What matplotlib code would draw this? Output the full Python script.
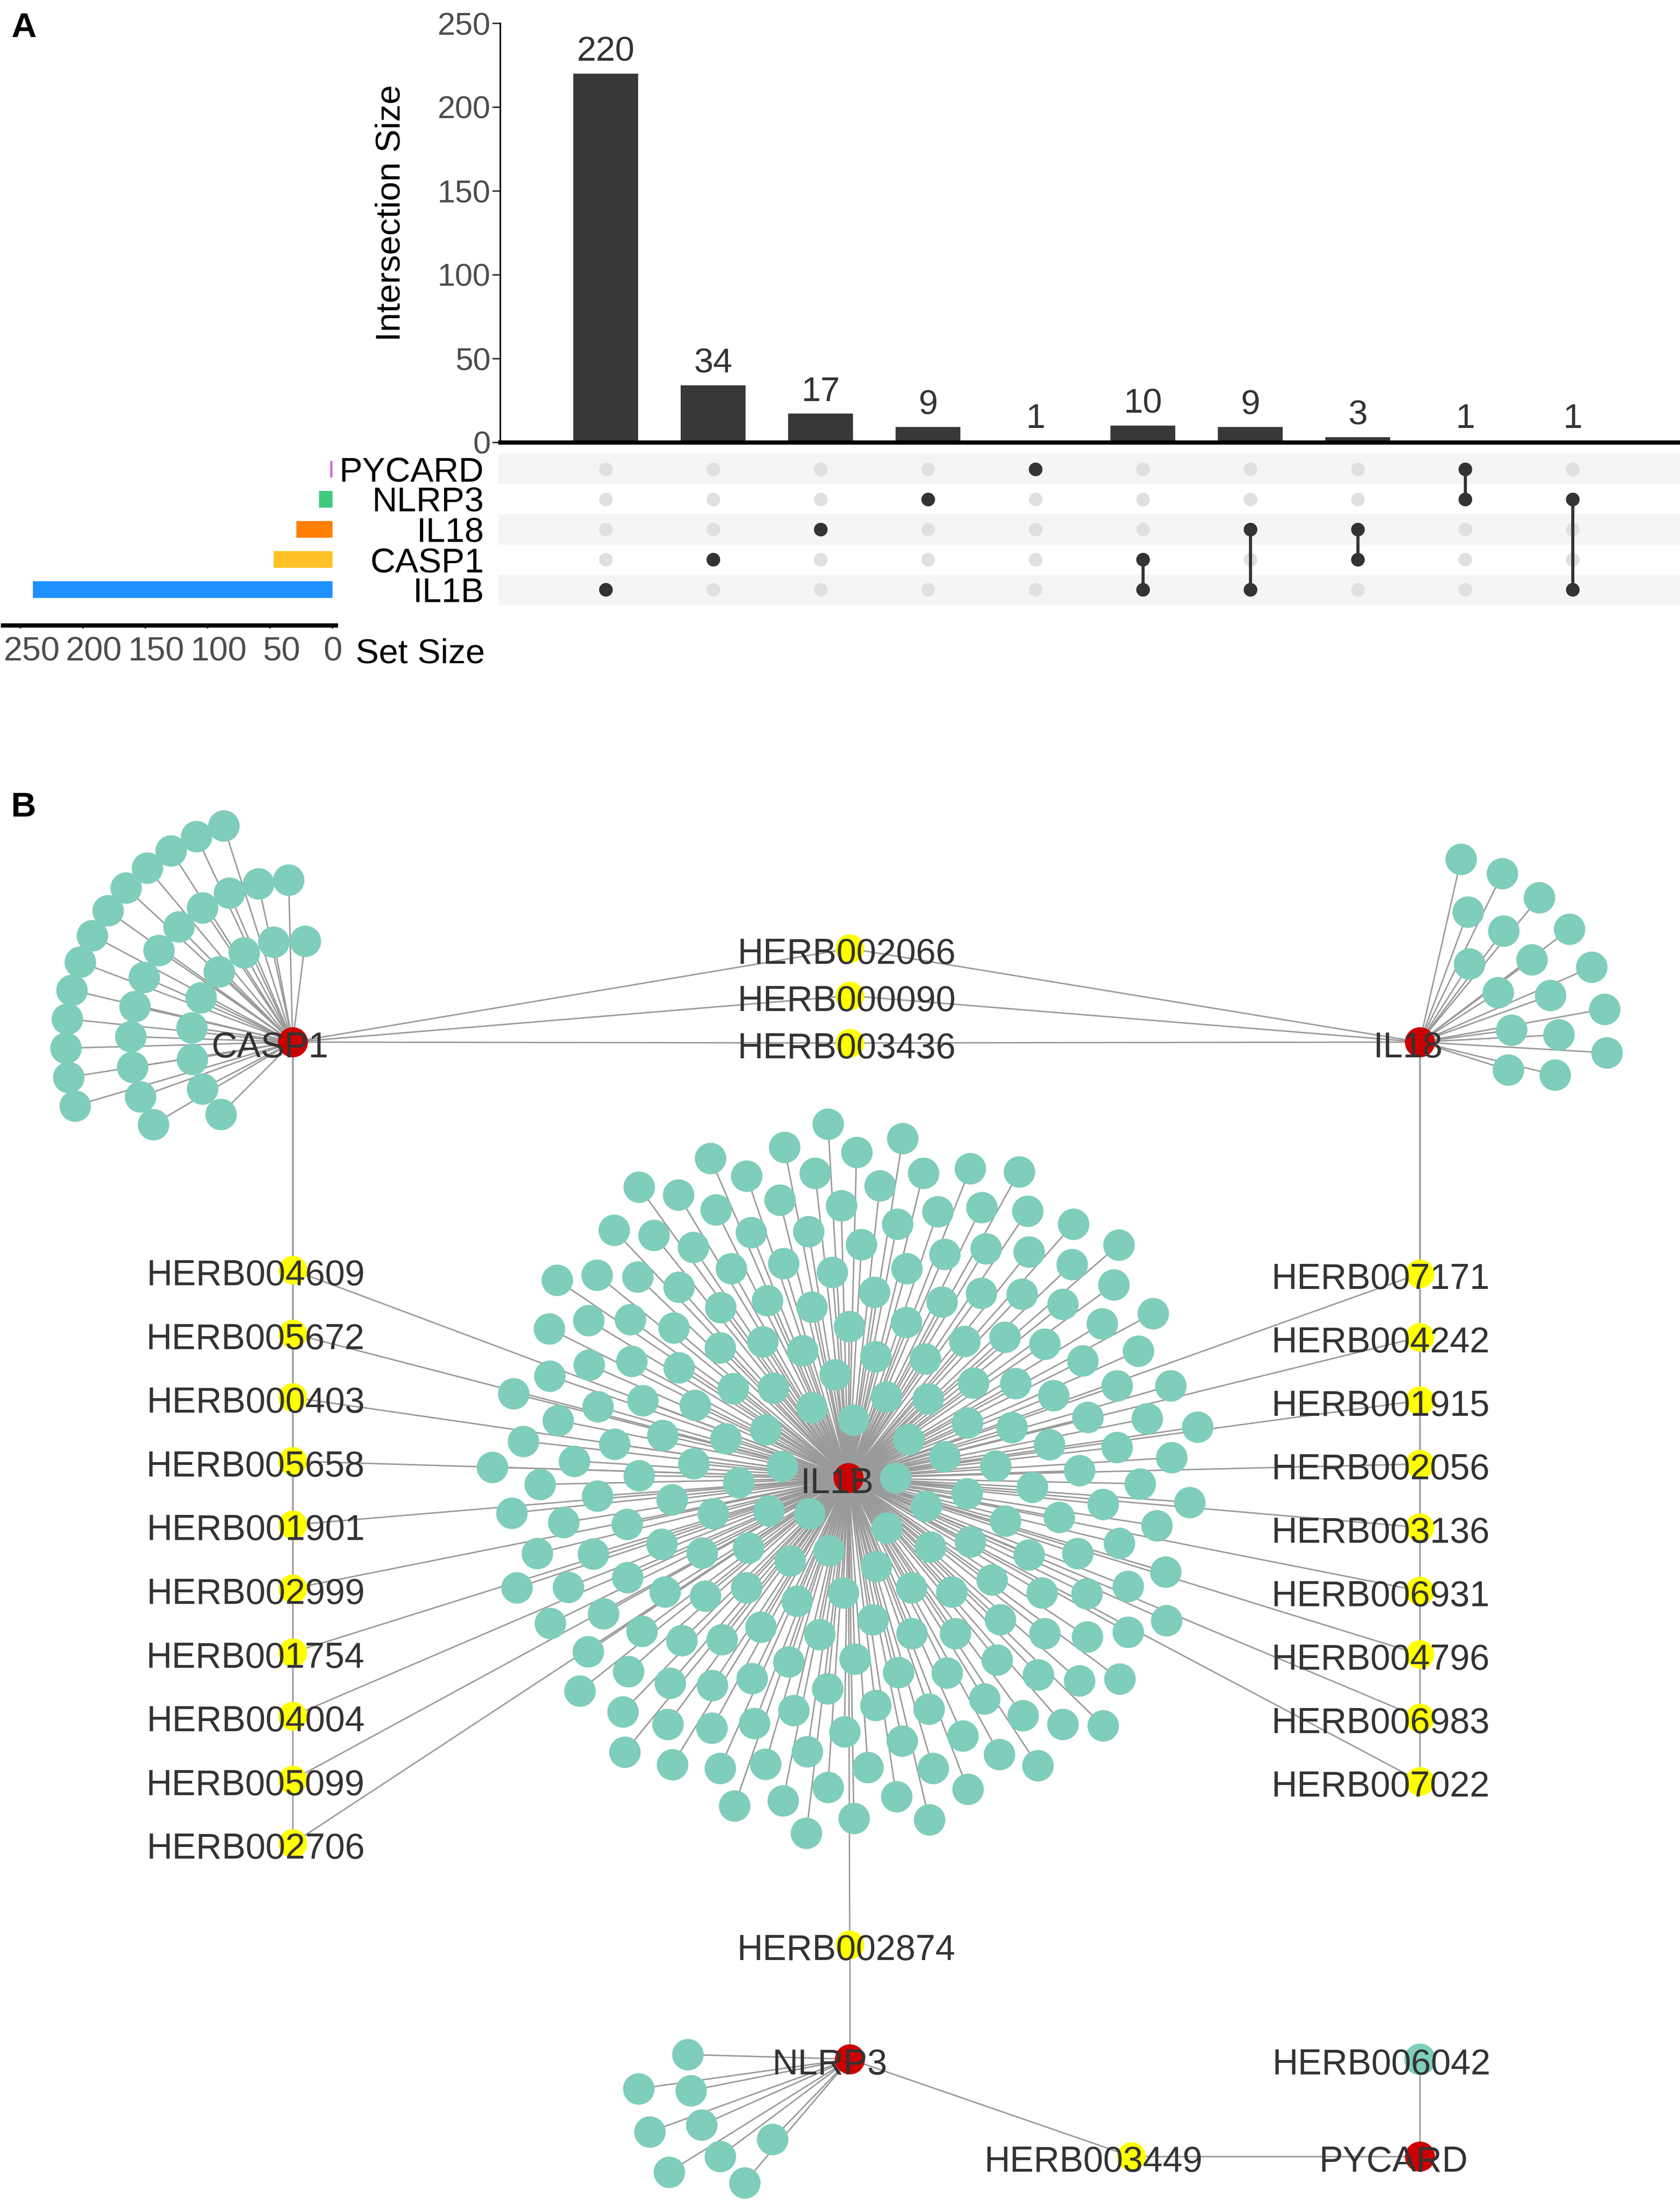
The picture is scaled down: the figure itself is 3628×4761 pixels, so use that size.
import numpy as np
import matplotlib
matplotlib.use('Agg')
import matplotlib.pyplot as plt
from matplotlib.collections import LineCollection
from matplotlib.transforms import ScaledTranslation

plt.rcParams['font.family'] = ['Liberation Sans', 'DejaVu Sans']

# ======================= DATA =======================
# Panel A (UpSet)
set_names = ['PYCARD', 'NLRP3', 'IL18', 'CASP1', 'IL1B']
set_colors = ['#d36fd3', '#40c97c', '#ff7f00', '#ffc125', '#1e90ff']
intersection_members = [
    ['IL1B'], ['CASP1'], ['IL18'], ['NLRP3'], ['PYCARD'],
    ['CASP1', 'IL1B'], ['IL18', 'IL1B'], ['IL18', 'CASP1'],
    ['PYCARD', 'NLRP3'], ['NLRP3', 'IL1B'],
]
intersection_sizes = [220, 34, 17, 9, 1, 10, 9, 3, 1, 1]
inter_ticks = [0, 50, 100, 150, 200, 250]
set_size_ticks = [0, 50, 100, 150, 200, 250]

# Panel B (network)
hubs = ['CASP1', 'IL18', 'IL1B', 'NLRP3', 'PYCARD']
herbs_casp1_il18 = ['HERB002066', 'HERB000090', 'HERB003436']
herbs_casp1_il1b = ['HERB004609', 'HERB005672', 'HERB000403', 'HERB005658', 'HERB001901',
                    'HERB002999', 'HERB001754', 'HERB004004', 'HERB005099', 'HERB002706']
herbs_il18_il1b = ['HERB007171', 'HERB004242', 'HERB001915', 'HERB002056', 'HERB003136',
                   'HERB006931', 'HERB004796', 'HERB006983', 'HERB007022']
herbs_nlrp3_il1b = ['HERB002874']
herbs_nlrp3_pycard = ['HERB003449']
herbs_pycard_only = ['HERB006042']
unlabeled_leaf_counts = {'IL1B': 220, 'CASP1': 34, 'IL18': 17, 'NLRP3': 9}

set_sizes = [sum(s for m, s in zip(intersection_members, intersection_sizes) if n in m)
             for n in set_names]

# ======================= FIGURE =======================
W, H = 3628, 4761
DPI = 300
fig = plt.figure(figsize=(W / DPI, H / DPI), dpi=DPI)
PT = 72 / DPI  # points per pixel


def px_axes(left, top, right, bottom, **kw):
    return fig.add_axes([left / W, 1 - bottom / H, (right - left) / W, (bottom - top) / H], **kw)


TXT = '#333333'
TICKLAB = '#4d4d4d'

# ---------- intersection bars ----------
col_x0, col_dx = 1308, 232
n_cols = len(intersection_sizes)
ax_l, ax_r = 1080, 3628
xlim = ((ax_l - col_x0) / col_dx, (ax_r - col_x0) / col_dx)

axb = px_axes(ax_l, 50, ax_r, 955)
cols = np.arange(n_cols)
axb.bar(cols, intersection_sizes, width=0.6, color='#383838', zorder=2)
for c, v in zip(cols, intersection_sizes):
    axb.annotate(str(v), (c, v), xytext=(0, 3), textcoords='offset points',
                 ha='center', va='bottom', fontsize=18, color=TXT)
axb.set_xlim(*xlim)
axb.set_ylim(0, 250)
axb.set_yticks(inter_ticks)
axb.set_xticks([])
for s in ['top', 'right']:
    axb.spines[s].set_visible(False)
axb.spines['left'].set_linewidth(0.8)
axb.spines['bottom'].set_linewidth(2.2)
axb.tick_params(axis='y', labelsize=16.5, labelcolor=TICKLAB, length=4, width=0.8, pad=1, color='#333333')
axb.set_ylabel('Intersection Size', fontsize=18, color='black')
axb.yaxis.set_label_coords((878 - ax_l) / (ax_r - ax_l), (955 - 460) / (955 - 50))
axb.patch.set_alpha(0)

# ---------- matrix ----------
m_top, m_bot = 980, 1306
axm = px_axes(1076, m_top, ax_r, m_bot)
axm.set_xlim((1076 - col_x0) / col_dx, xlim[1])
axm.set_ylim(len(set_names) - 0.5, -0.5)
for r in range(len(set_names)):
    if r % 2 == 0:
        axm.axhspan(r - 0.5, r + 0.5, color='#f5f5f5', zorder=0, lw=0)
gx, gy = np.meshgrid(cols, np.arange(len(set_names)))
axm.scatter(gx.ravel(), gy.ravel(), s=50, color='#e0e0e0', zorder=2, linewidths=0)
for c, members in enumerate(intersection_members):
    rows = [set_names.index(m) for m in members]
    if len(rows) > 1:
        axm.plot([c, c], [min(rows), max(rows)], color='#333333', lw=1.6, zorder=3)
    axm.scatter([c] * len(rows), rows, s=50, color='#333333', zorder=4, linewidths=0)
axm.set_yticks(range(len(set_names)))
axm.set_yticklabels(set_names)
axm.set_xticks([])
axm.tick_params(axis='y', length=0, labelsize=18, labelcolor='black', pad=(1076 - 1045) * PT)
for s in axm.spines.values():
    s.set_visible(False)

# ---------- set size bars ----------
axs = px_axes(6, m_top, 725, m_bot)
axs.barh(np.arange(len(set_names)), set_sizes, height=0.55, color=set_colors, zorder=2)
axs.set_xlim(264, -2.5)
axs.set_ylim(len(set_names) - 0.5, -0.5)
axs.set_yticks([])
axs.set_xticks(set_size_ticks)
for s in ['top', 'right', 'left']:
    axs.spines[s].set_visible(False)
axs.spines['bottom'].set_position(('outward', (1350 - m_bot) * PT))
axs.spines['bottom'].set_linewidth(2.2)
axs.tick_params(axis='x', labelsize=17.5, labelcolor=TICKLAB, length=1.6, width=0.9,
                color='#333333', pad=4)
shift = ScaledTranslation(24 / DPI, 0, fig.dpi_scale_trans)
for lab, v in zip(axs.get_xticklabels(), set_size_ticks):
    if v > 0:
        lab.set_transform(lab.get_transform() + shift)
axs.patch.set_alpha(0)
fig.text(768 / W, 1 - 1431 / H, 'Set Size', fontsize=18, color='black', ha='left', va='baseline')

# panel letters
fig.text(24 / W, 1 - 80 / H, 'A', fontsize=18, fontweight='bold', ha='left', va='baseline')
fig.text(24 / W, 1 - 1763 / H, 'B', fontsize=18, fontweight='bold', ha='left', va='baseline')

# ======================= NETWORK (panel B) =======================
axn = fig.add_axes([0, 0, 1, 1], zorder=-1)
axn.set_xlim(0, W)
axn.set_ylim(H, 0)
axn.axis('off')

# ---- layout (pixel space) ----
col_left, col_mid, col_right = 632, 1835, 3066
hub_xy = {'CASP1': (col_left, 2250), 'IL18': (col_right, 2250), 'IL1B': (1832, 3191),
          'NLRP3': (col_mid, 4446), 'PYCARD': (col_right, 4656)}
hub_label_dx = {'CASP1': -49, 'IL18': -25, 'IL1B': -24, 'NLRP3': -43, 'PYCARD': -57}

herb_nodes = []  # (name, x, y, color, label_dx, [hubs])
for i, h in enumerate(herbs_casp1_il18):
    herb_nodes.append((h, col_mid, 2048 + 102 * i, 'yellow', -7, ['CASP1', 'IL18']))
for i, h in enumerate(herbs_casp1_il1b):
    herb_nodes.append((h, col_left, 2742 + 137.6 * i, 'yellow', -80, ['CASP1', 'IL1B']))
for i, h in enumerate(herbs_il18_il1b):
    herb_nodes.append((h, col_right, 2750 + 137 * i, 'yellow', -85, ['IL18', 'IL1B']))
for h in herbs_nlrp3_il1b:
    herb_nodes.append((h, col_mid, 4199, 'yellow', -7, ['IL1B', 'NLRP3']))
for h in herbs_nlrp3_pycard:
    herb_nodes.append((h, 2443, 4656, 'yellow', -82, ['NLRP3', 'PYCARD']))
for h in herbs_pycard_only:
    herb_nodes.append((h, col_right, 4446, 'green', -83, ['PYCARD']))


def fan_layout(center, n, rings):
    """Place n leaves on concentric arcs; rings = [(radius, a0, a1)], angles in degrees."""
    cx, cy = center
    w = np.array([r * abs(a1 - a0) for r, a0, a1 in rings], float)
    counts = np.floor(n * w / w.sum()).astype(int)
    rem = n * w / w.sum() - counts
    for k in np.argsort(-rem)[: n - counts.sum()]:
        counts[k] += 1
    xs, ys = [], []
    for (r, a0, a1), c in zip(rings, counts):
        ang = np.radians(a0 + (a1 - a0) * (np.arange(c) + 0.5) / c)
        xs.extend(cx + r * np.cos(ang))
        ys.extend(cy - r * np.sin(ang))
    return np.array(xs), np.array(ys)


def sunflower_layout(center, n, r_min, r_max):
    cx, cy = center
    i = np.arange(n)
    r = np.sqrt(r_min ** 2 + (r_max ** 2 - r_min ** 2) * (i + 0.5) / n)
    th = i * np.radians(137.508)
    return cx + r * np.cos(th), cy + r * np.sin(th)


leaf_xy = {
    'IL1B': sunflower_layout(hub_xy['IL1B'], unlabeled_leaf_counts['IL1B'], 95, 775),
    'CASP1': fan_layout(hub_xy['CASP1'], unlabeled_leaf_counts['CASP1'],
                        [(220, 74, 234), (350, 86, 216), (490, 104, 200)]),
    'IL18': fan_layout(hub_xy['IL18'], unlabeled_leaf_counts['IL18'],
                       [(200, 70, -30), (300, 78, -22), (405, 84, -10)]),
    'NLRP3': fan_layout(hub_xy['NLRP3'], unlabeled_leaf_counts['NLRP3'],
                        [(240, 214, 238), (350, 172, 236), (460, 182, 218)]),
}

# ---- edges ----
segs = []
for hub, (lx, ly) in leaf_xy.items():
    hx, hy = hub_xy[hub]
    segs += [[(hx, hy), (x, y)] for x, y in zip(lx, ly)]
for name, x, y, c, dx, hl in herb_nodes:
    for hb in hl:
        segs.append([hub_xy[hb], (x, y)])
axn.add_collection(LineCollection(segs, colors='#9a9a9a', linewidths=0.75, zorder=1))

GREEN, RED, YELLOW = '#7fcdbb', '#cc0000', '#ffff00'
s_green = (68 * PT) ** 2
s_red = (65 * PT) ** 2
s_yel = (62 * PT) ** 2

for hub, (lx, ly) in leaf_xy.items():
    axn.scatter(lx, ly, s=s_green, color=GREEN, linewidths=0, zorder=2)

for name, x, y, c, dx, hl in herb_nodes:
    if c == 'yellow':
        axn.scatter([x], [y], s=s_yel, color=YELLOW, linewidths=0, zorder=3)
    else:
        axn.scatter([x], [y], s=s_green, color=GREEN, linewidths=0, zorder=3)
    axn.text(x + dx, y + 33, name, ha='center', va='baseline', fontsize=18.5, color=TXT, zorder=5)

for hb in hubs:
    x, y = hub_xy[hb]
    axn.scatter([x], [y], s=s_red, color=RED, linewidths=0, zorder=4)
    axn.text(x + hub_label_dx[hb], y + 33, hb, ha='center', va='baseline', fontsize=18.5,
             color=TXT, zorder=5)

fig.savefig('out.png', dpi=DPI)
